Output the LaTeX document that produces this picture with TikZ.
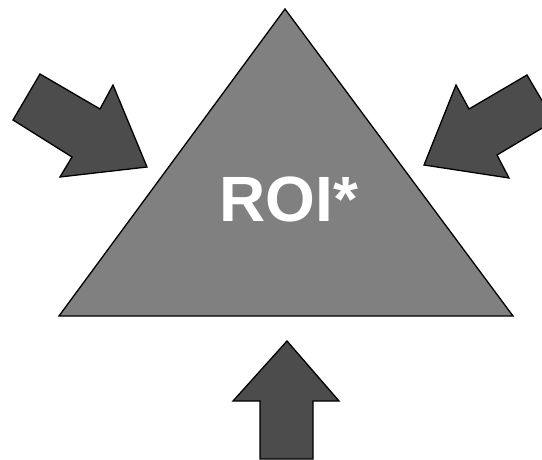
\documentclass[tikz,border=0pt]{standalone}
\usepackage{fontspec}
\setmainfont{Liberation Sans}
\begin{document}
\begin{tikzpicture}[x=1pt,y=-1pt,
  pyramid/.style={fill=black!50, draw=black, line width=1.3pt, line join=miter},
  push/.style={fill=black!70, draw=black, line width=1.3pt, line join=miter},
  label/.style={text=white, font=\bfseries\fontsize{64}{64}\selectfont, inner sep=0pt}]
  \useasboundingbox (0,0) rectangle (542,460);
  \clip (0,0) rectangle (542,460);
  % central triangle
  \coordinate (apex) at (285,9);
  \coordinate (bl) at (59,316);
  \coordinate (br) at (513,316);
  \draw[pyramid] (apex) -- (br) -- (bl) -- cycle;
  \node[label] (roi) at (289,199) {ROI*};
  % block arrows pushing inwards
  \draw[push] (40,74) -- (100,109) -- (113,85) -- (147,167) -- (60,177) -- (72,157) -- (13,120) -- cycle;
  \draw[push] (527,75) -- (469,109) -- (456,85) -- (424,165) -- (509,178) -- (497,155) -- (554,121) -- cycle;
  \draw[push] (287,341) -- (339,401) -- (313,401) -- (313,459) -- (260,459) -- (260,401) -- (233,401) -- cycle;
\end{tikzpicture}
\end{document}
